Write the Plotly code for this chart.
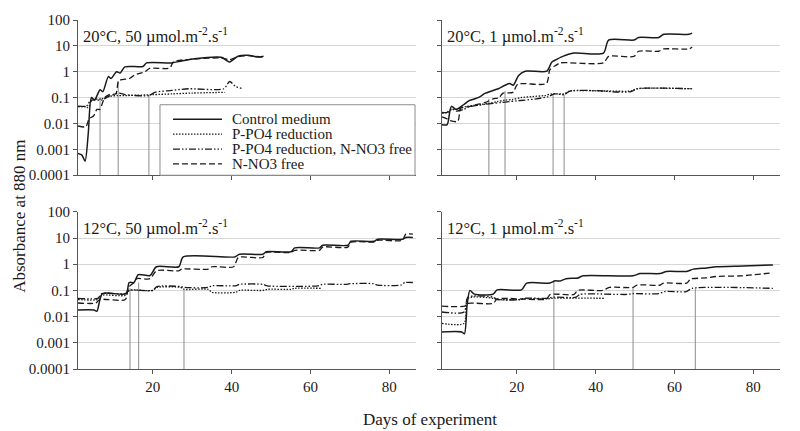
import plotly.graph_objects as go
from plotly.subplots import make_subplots

# ---------------- data ----------------
series_names = ["Control medium", "P-PO4 reduction", "P-PO4 reduction, N-NO3 free", "N-NO3 free"]
panel_titles = ["20°C, 50 µmol.m<sup>-2</sup>.s<sup>-1</sup>",
                "20°C, 1 µmol.m<sup>-2</sup>.s<sup>-1</sup>",
                "12°C, 50 µmol.m<sup>-2</sup>.s<sup>-1</sup>",
                "12°C, 1 µmol.m<sup>-2</sup>.s<sup>-1</sup>"]
y_tick_vals = [0.0001, 0.001, 0.01, 0.1, 1, 10, 100]
y_tick_text = ["0.0001", "0.001", "0.01", "0.1", "1", "10", "100"]
x_tick_vals = [20, 40, 60, 80]

# Panel 1: 20°C, 50 µmol
tl_control_days = [1, 2, 2.8, 3.6, 4.4, 5.2, 6.6, 7.3, 8.7, 9.4, 10.8, 11.7, 12.9, 17.5, 18.4, 24.8, 27.3, 30.6, 37.4, 39.5, 41.6, 44.2, 46.7, 48.1]
tl_control_vals = [0.0007, 0.0006, 0.00035, 0.004, 0.1, 0.08, 0.2, 0.17, 0.65, 0.55, 1.0, 0.9, 1.55, 1.6, 2.2, 2.2, 2.6, 3.2, 3.6, 2.4, 4.0, 4.3, 3.7, 4.0]
tl_dotted_days = [1, 3, 4, 5, 7, 8.7, 11, 13, 20, 25, 30, 38.3]
tl_dotted_vals = [0.045, 0.045, 0.07, 0.085, 0.09, 0.11, 0.12, 0.12, 0.13, 0.14, 0.15, 0.16]
tl_dashdot_days = [1, 3, 3.6, 4.5, 7, 8.7, 11.5, 13, 19, 20.5, 24.8, 29, 38, 39.5, 41, 42.5]
tl_dashdot_vals = [0.047, 0.045, 0.04, 0.08, 0.08, 0.11, 0.15, 0.13, 0.12, 0.16, 0.19, 0.22, 0.22, 0.42, 0.27, 0.23]
tl_dashed_days = [1, 3, 3.8, 5, 5.8, 6.5, 7.8, 9, 10.6, 11.3, 12.3, 14.2, 15.4, 18, 19.2, 24.3, 25.2, 30.6, 37.4, 39.5, 41.6, 44.2, 48.1]
tl_dashed_vals = [0.008, 0.0075, 0.015, 0.02, 0.035, 0.035, 0.1, 0.13, 0.14, 0.45, 0.5, 0.56, 0.75, 1.0, 1.35, 1.4, 2.4, 3.1, 3.4, 2.9, 3.8, 4.2, 3.6]

# Panel 2: 20°C, 1 µmol
tr_control_days = [1, 2.3, 3.0, 3.4, 4.6, 6.5, 7.8, 9.4, 10.7, 11.9, 13.6, 15.3, 17.0, 18.2, 19.1, 20.4, 22.1, 27.6, 28.9, 30.1, 31.8, 34.4, 42.0, 43.3, 49.7, 50.9, 56, 57.3, 63.7, 64.5]
tr_control_vals = [0.009, 0.009, 0.03, 0.046, 0.035, 0.053, 0.075, 0.09, 0.11, 0.145, 0.18, 0.22, 0.3, 0.35, 0.3, 0.7, 1.05, 1.05, 2.4, 3.0, 4.0, 5.3, 5.3, 16.8, 16.8, 21, 21, 28, 28, 31]
tr_dotted_days = [1, 2.5, 3.5, 5, 7, 9, 11, 13, 15, 17, 19, 21, 24, 27, 29, 32, 33.5, 42, 43.5, 49, 50.5, 64.5]
tr_dotted_vals = [0.025, 0.027, 0.035, 0.035, 0.045, 0.05, 0.055, 0.06, 0.07, 0.08, 0.085, 0.1, 0.11, 0.12, 0.14, 0.14, 0.18, 0.18, 0.18, 0.18, 0.22, 0.22]
tr_dashdot_days = [1, 2.3, 3.4, 4.6, 6.5, 8, 10, 12, 14, 16, 18, 20, 22, 25, 28, 29.5, 32, 33.5, 42, 43.5, 49, 50.5, 64.5]
tr_dashdot_vals = [0.027, 0.027, 0.038, 0.03, 0.035, 0.045, 0.05, 0.055, 0.06, 0.065, 0.07, 0.075, 0.08, 0.09, 0.11, 0.14, 0.13, 0.18, 0.18, 0.17, 0.17, 0.22, 0.22]
tr_dashed_days = [1, 2.3, 3, 5, 5.8, 7.8, 10, 12, 14, 15.5, 16.5, 19, 20.2, 27.5, 28.4, 30, 31, 42, 43.3, 49.7, 50.9, 56, 57.3, 63.7, 64.5]
tr_dashed_vals = [0.018, 0.015, 0.013, 0.012, 0.04, 0.045, 0.055, 0.065, 0.09, 0.1, 0.15, 0.16, 0.33, 0.35, 1.2, 1.8, 2.2, 2.2, 3.9, 3.9, 6.2, 6.2, 7.6, 7.6, 9.0]

# Panel 3: 12°C, 50 µmol
bl_control_days = [1, 5, 5.8, 7.2, 13.2, 14, 15.2, 16.3, 19.3, 20.9, 26.6, 27.7, 40.8, 42, 47.9, 48.8, 55.1, 56, 62.3, 63.1, 69.5, 70.3, 76.2, 77, 83.3, 84.2, 86]
bl_control_vals = [0.018, 0.018, 0.016, 0.075, 0.075, 0.2, 0.2, 0.4, 0.37, 0.8, 0.8, 1.9, 1.9, 2.4, 2.4, 3.0, 3.0, 4.2, 4.2, 5.3, 5.3, 7.5, 7.5, 8.9, 8.9, 10.5, 10.5]
bl_dotted_days = [1, 6, 7, 13, 14, 20, 21, 27, 28, 34, 35, 41, 42, 48, 49, 55, 56, 63]
bl_dotted_vals = [0.045, 0.045, 0.065, 0.065, 0.1, 0.1, 0.13, 0.13, 0.11, 0.11, 0.085, 0.085, 0.1, 0.1, 0.11, 0.11, 0.12, 0.12]
bl_dashdot_days = [1, 6, 7, 13, 14, 20, 21, 27, 28, 34, 35, 41, 42, 48, 49, 62, 63, 69, 70, 76, 77, 83, 84, 86]
bl_dashdot_vals = [0.05, 0.05, 0.075, 0.075, 0.1, 0.1, 0.14, 0.14, 0.13, 0.13, 0.15, 0.15, 0.17, 0.17, 0.15, 0.15, 0.17, 0.17, 0.18, 0.18, 0.16, 0.16, 0.2, 0.2]
bl_dashed_days = [1, 5.5, 6.5, 13, 13.8, 15.2, 15.9, 19.3, 20.9, 26.6, 27.3, 34.1, 35, 40.5, 41.7, 47.9, 48.8, 55.1, 56, 62.3, 63.1, 69.5, 70.3, 76.2, 77, 83.3, 84.2, 86]
bl_dashed_vals = [0.033, 0.033, 0.045, 0.045, 0.13, 0.2, 0.28, 0.28, 0.56, 0.56, 0.65, 0.65, 0.8, 0.8, 1.8, 1.8, 2.8, 2.8, 3.4, 3.4, 4.5, 4.5, 7.0, 7.0, 8.2, 8.2, 14, 14]

# Panel 4: 12°C, 1 µmol
br_control_days = [1, 6, 6.7, 7.4, 8.1, 9.2, 14, 15, 21.2, 22.5, 28.4, 29.6, 31, 32.5, 35.5, 36.8, 49.5, 51.3, 56.4, 58, 63.1, 64.8, 68.2, 70.6, 77.4, 85]
br_control_vals = [0.0026, 0.0026, 0.0022, 0.03, 0.1, 0.072, 0.072, 0.105, 0.105, 0.19, 0.19, 0.23, 0.23, 0.28, 0.3, 0.36, 0.36, 0.44, 0.44, 0.53, 0.53, 0.65, 0.72, 0.8, 0.86, 0.94]
br_dotted_days = [1, 6.6, 7.6, 14, 15, 21, 22, 28, 29, 42.4]
br_dotted_vals = [0.0055, 0.0055, 0.05, 0.05, 0.045, 0.045, 0.048, 0.048, 0.05, 0.05]
br_dashdot_days = [1, 6.6, 7.6, 14, 15, 21, 22, 28, 29, 35, 36, 48, 49.5, 56, 57.5, 63, 64.5, 85]
br_dashdot_vals = [0.015, 0.015, 0.055, 0.055, 0.045, 0.045, 0.05, 0.05, 0.055, 0.055, 0.07, 0.07, 0.075, 0.075, 0.09, 0.09, 0.12, 0.12]
br_dashed_days = [1, 6.8, 7.6, 14, 15, 27.5, 28.5, 34.5, 35.5, 41.8, 43.5, 49.5, 50.5, 56.4, 57.2, 63.1, 64.1, 68, 70.6, 77, 85]
br_dashed_vals = [0.025, 0.025, 0.032, 0.032, 0.047, 0.047, 0.07, 0.07, 0.1, 0.1, 0.13, 0.13, 0.16, 0.16, 0.19, 0.19, 0.27, 0.3, 0.34, 0.36, 0.47]

# Vertical reference lines (day, top value) per panel
tl_mark_days = [6.6, 11.2, 19.0]
tl_mark_tops = [0.1, 0.42, 0.13]
tr_mark_days = [12.9, 17.0, 29.2, 32.0]
tr_mark_tops = [0.09, 0.18, 0.13, 0.13]
bl_mark_days = [14.2, 16.4, 27.9]
bl_mark_tops = [0.12, 0.2, 0.1]
br_mark_days = [29.4, 49.5, 65.3]
br_mark_tops = [0.24, 0.13, 0.12]

# ---------------- figure ----------------
FONT = "Liberation Serif, Times New Roman, serif"
INK = "#1a1a1a"
styles = [
    dict(color=INK, width=1.5, dash="solid"),
    dict(color=INK, width=1.3, dash="1.5px,1.5px"),
    dict(color=INK, width=1.3, dash="7px,2px,1.5px,2px,1.5px,2px"),
    dict(color=INK, width=1.3, dash="6px,3px"),
]

panels = [
    (1, 1, [(tl_control_days, tl_control_vals), (tl_dotted_days, tl_dotted_vals),
            (tl_dashdot_days, tl_dashdot_vals), (tl_dashed_days, tl_dashed_vals)],
     tl_mark_days, tl_mark_tops),
    (1, 2, [(tr_control_days, tr_control_vals), (tr_dotted_days, tr_dotted_vals),
            (tr_dashdot_days, tr_dashdot_vals), (tr_dashed_days, tr_dashed_vals)],
     tr_mark_days, tr_mark_tops),
    (2, 1, [(bl_control_days, bl_control_vals), (bl_dotted_days, bl_dotted_vals),
            (bl_dashdot_days, bl_dashdot_vals), (bl_dashed_days, bl_dashed_vals)],
     bl_mark_days, bl_mark_tops),
    (2, 2, [(br_control_days, br_control_vals), (br_dotted_days, br_dotted_vals),
            (br_dashdot_days, br_dashdot_vals), (br_dashed_days, br_dashed_vals)],
     br_mark_days, br_mark_tops),
]

fig = make_subplots(rows=2, cols=2)

for pi, (r, c, series, mdays, mtops) in enumerate(panels):
    for d, t in zip(mdays, mtops):
        fig.add_trace(go.Scatter(x=[d, d], y=[y_tick_vals[0], t], mode="lines",
                                 line=dict(color="#8c8c8c", width=1),
                                 showlegend=False, hoverinfo="skip"), row=r, col=c)
    for si, (xs, ys) in enumerate(series):
        fig.add_trace(go.Scatter(x=xs, y=ys, mode="lines", name=series_names[si],
                                 line=dict(shape="spline", smoothing=0.7, **styles[si]),
                                 showlegend=False), row=r, col=c)

xdom_left, xdom_right = [0.0, 0.4815], [0.5185, 1.0]
ydom_top, ydom_bot = [0.5552, 1.0], [0.0, 0.4504]
doms = {(1, 1): (xdom_left, ydom_top), (1, 2): (xdom_right, ydom_top),
        (2, 1): (xdom_left, ydom_bot), (2, 2): (xdom_right, ydom_bot)}

for (r, c), (xd, yd) in doms.items():
    fig.update_xaxes(domain=xd, range=[1, 86.8], tickvals=x_tick_vals,
                     showticklabels=(r == 2), ticks="outside", ticklen=4,
                     tickcolor="#555", showline=True, linecolor="#555", linewidth=1,
                     showgrid=False, zeroline=False,
                     tickfont=dict(family=FONT, size=15, color=INK), row=r, col=c)
    fig.update_yaxes(domain=yd, type="log", range=[-4, 2], tickvals=y_tick_vals,
                     ticktext=y_tick_text, showticklabels=(c == 1),
                     ticks="outside", ticklen=4, tickcolor="#555",
                     showline=True, linecolor="#555", linewidth=1,
                     showgrid=True, gridcolor="#d6d6d6", gridwidth=1, zeroline=False,
                     tickfont=dict(family=FONT, size=15, color=INK), row=r, col=c)

annotations = []
axis_ids = ["", "2", "3", "4"]
for t, aid in zip(panel_titles, axis_ids):
    annotations.append(dict(text=t, xref=f"x{aid} domain", yref=f"y{aid} domain",
                            x=0.008, y=1, xanchor="left", yanchor="top", yshift=-3,
                            showarrow=False, font=dict(family=FONT, size=16.5, color=INK)))
annotations.append(dict(text="Absorbance at 880 nm", xref="paper", yref="paper",
                        x=-0.0826, y=0.436, textangle=-90, showarrow=False,
                        xanchor="center", yanchor="middle",
                        font=dict(family=FONT, size=17, color=INK)))
annotations.append(dict(text="Days of experiment", xref="paper", yref="paper",
                        x=0.501, y=-0.1445, showarrow=False,
                        xanchor="center", yanchor="middle",
                        font=dict(family=FONT, size=17, color=INK)))

# Legend box drawn in the top-left panel (compact rows like the original)
shapes = [dict(type="rect", xref="paper", yref="paper", x0=0.1168, x1=0.4801,
               y0=0.5552, y1=0.7572, line=dict(color="#8c8c8c", width=1),
               fillcolor="white", layer="above")]
legend_rows_y = [0.7153, 0.6728, 0.6303, 0.5878]
for name, st, ry in zip(series_names, styles, legend_rows_y):
    shapes.append(dict(type="line", xref="paper", yref="paper", x0=0.1353, x1=0.2051,
                       y0=ry, y1=ry, layer="above",
                       line=dict(color=st["color"], width=st["width"], dash=st["dash"])))
    annotations.append(dict(text=name, xref="paper", yref="paper", x=0.2165, y=ry,
                            xanchor="left", yanchor="middle", showarrow=False,
                            font=dict(family=FONT, size=15, color=INK)))

fig.update_layout(
    width=800, height=431,
    margin=dict(l=78, r=20, t=16, b=62),
    paper_bgcolor="white", plot_bgcolor="white",
    font=dict(family=FONT, color=INK),
    annotations=annotations,
    shapes=shapes,
    showlegend=False,
)

fig.write_html("out.html",
               config={"displayModeBar": False},
               post_script="document.body.style.margin='0';document.body.style.overflow='hidden';")
